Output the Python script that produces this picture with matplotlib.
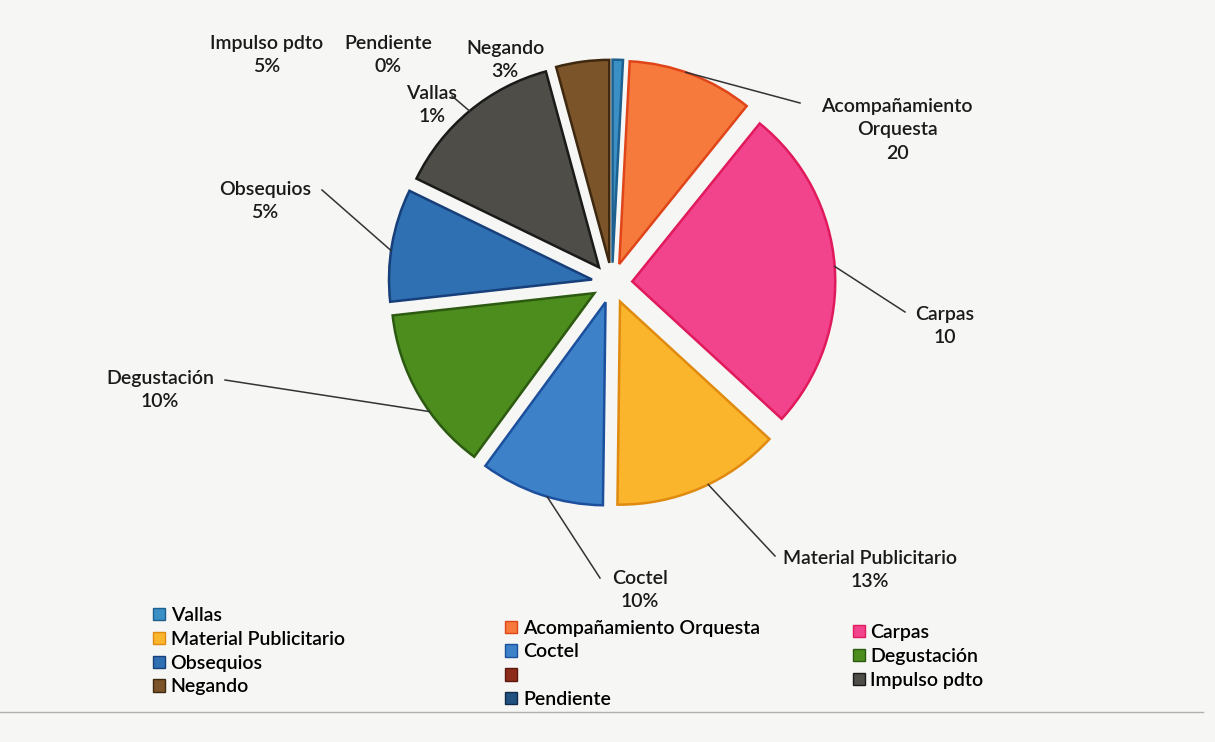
import matplotlib.pyplot as plt
import matplotlib.patches as mpatches
import numpy as np

plt.rcParams['font.family'] = ['Lato', 'DejaVu Sans']

# ---- data (clockwise from 12 o'clock)
names = ['Vallas', 'Acompañamiento Orquesta', 'Carpas', 'Material Publicitario',
         'Coctel', 'Degustación', 'Obsequios', '', 'Impulso pdto', 'Negando',
         'Pendiente']
values = [0.8, 9.7, 25.3, 13.0, 9.6, 12.8, 8.7, 0.0, 13.2, 4.1, 0.0]
colors = ['#3a8fc4', '#f57a3c', '#f2448c', '#fbb52c', '#3d82c9', '#4c8d1e',
          '#2f70b2', '#8e2c1c', '#4e4d48', '#7c5429', '#21527f']
edges = ['#1d5f8f', '#e0451a', '#e01a5c', '#e08a10', '#1c4f9c', '#2c5a10',
         '#173f7a', '#5a1a10', '#1a1a18', '#3e2810', '#102a48']

# data labels as printed on the chart (they do not match the slices)
lab_text = ['Acompañamiento\nOrquesta\n20', 'Carpas\n10', 'Material Publicitario\n13%',
            'Coctel\n10%', 'Degustación\n10%', 'Obsequios\n5%', 'Vallas\n1%',
            'Impulso pdto\n5%', 'Pendiente\n0%', 'Negando\n3%']
lab_pos = [(897, 130), (945, 326), (870, 570), (640, 590), (160, 390),
           (265, 201), (432, 105), (267, 55), (388, 55), (505, 60)]
lab_wedge = [1, 2, 3, 4, 5, 6, 8, None, None, None]
lab_frac = [0.55, 0.5, 0.55, 0.55, 0.62, 0.55, 0.5, 0, 0, 0]
lab_end = [(800, 103), (905, 312), (775, 556), (600, 578), (225, 380),
           (322, 190), (452, 96), None, None, None]

W, H = 1215, 742
fig = plt.figure(figsize=(W / 100, H / 100), dpi=100)
fig.patch.set_facecolor('#f6f6f4')
ax = fig.add_axes([0, 0, 1, 1])

cx, cy, R = 612, H - 283, 203
wedges, _ = ax.pie(values, colors=colors, startangle=90, counterclock=False,
                   explode=[0.1 * R] * len(values), center=(cx, cy), radius=R,
                   wedgeprops=dict(linewidth=1.8))
for w, ec, v in zip(wedges, edges, values):
    w.set_edgecolor(ec)
    if v == 0:
        w.set_visible(False)

ax.set_xlim(0, W)
ax.set_ylim(0, H)
ax.set_aspect('equal')
ax.axis('off')

# labels + leader lines
for txt, pos, wi, fr, end in zip(lab_text, lab_pos, lab_wedge, lab_frac, lab_end):
    ax.text(pos[0], H - pos[1], txt, ha='center', va='center', fontsize=14,
            color='#1a1a1a', linespacing=1.45, fontweight='semibold')
    if wi is not None:
        w = wedges[wi]
        ang = np.deg2rad(w.theta1 + fr * (w.theta2 - w.theta1))
        px = w.center[0] + w.r * np.cos(ang)
        py = w.center[1] + w.r * np.sin(ang)
        ax.plot([px, end[0]], [py, H - end[1]], color='#333333', lw=1.1)

# legend, laid out like the spreadsheet one (row-major, 3 columns)
handles = [mpatches.Rectangle((0, 0), 1, 1, facecolor=c, edgecolor=e, lw=1)
           for c, e in zip(colors, edges)]
cols = [[0, 3, 6, 9], [1, 4, 7, 10], [2, 5, 8]]
col_xy = [(0.118, 0.195), (0.408, 0.178), (0.694, 0.172)]
for idx, (lx, ly) in zip(cols, col_xy):
    leg = fig.legend([handles[i] for i in idx], [names[i] for i in idx],
                     loc='upper left', bbox_to_anchor=(lx, ly), frameon=False,
                     handlelength=0.6, handleheight=0.6,
                     handletextpad=0.3, labelspacing=0.35, borderpad=0,
                     prop=dict(size=14, weight='semibold'))

fig.add_artist(plt.Line2D([0.0, 0.99], [0.04, 0.04], color='#b0b0b0', lw=1))

fig.savefig('out.png', dpi=100, facecolor=fig.get_facecolor())
